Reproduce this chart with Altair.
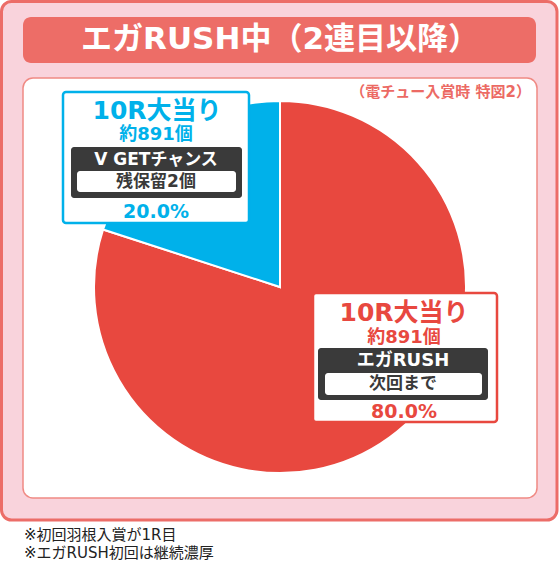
import altair as alt
import pandas as pd

# ---- data ----
title = "エガRUSH中（2連目以降）"
subtitle = "（電チュー入賞時 特図2）"
categories = ["エガRUSH", "V GETチャンス"]
values = [80.0, 20.0]
round_labels = ["10R大当り", "10R大当り"]
payouts = ["約891個", "約891個"]
sub_labels = ["次回まで", "残保留2個"]
footnotes = ["※初回羽根入賞が1R目", "※エガRUSH初回は継続濃厚"]

RED = "#e8483f"
BLUE = "#00b1ea"
DARK = "#3a3a3a"
FONT = "DejaVu Sans, Noto Sans CJK JP"

one = pd.DataFrame({"k": [0]})


def box(x, x2, y, y2, fill, stroke=None, sw=0, cr=0):
    kw = dict(fill=fill, cornerRadius=cr)
    if stroke:
        kw.update(stroke=stroke, strokeWidth=sw)
    return alt.Chart(one).mark_rect(**kw).encode(
        x=alt.value(x), x2=alt.value(x2), y=alt.value(y), y2=alt.value(y2)
    )


def label(s, x, y, size, color, weight="bold", align="center"):
    return alt.Chart(pd.DataFrame({"t": [s]})).mark_text(
        font=FONT, fontSize=size, fontWeight=weight, color=color,
        align=align, baseline="middle"
    ).encode(x=alt.value(x), y=alt.value(y), text="t:N")


pie_df = pd.DataFrame({"category": categories, "value": values, "idx": [0, 1]})
pie = alt.Chart(pie_df).mark_arc(outerRadius=186, stroke="white", strokeWidth=2).encode(
    theta=alt.Theta("value:Q", stack=True),
    order=alt.Order("idx:Q"),
    color=alt.Color("category:N", scale=alt.Scale(domain=categories, range=[RED, BLUE]), legend=None),
    x=alt.value(280),
    y=alt.value(287),
)

pct = [f"{v:.1f}%" for v in values]

layers = [
    box(1.5, 557, 1.5, 520, "#f9d3dc", "#ec6d68", 3, 10),
    box(23, 536, 17, 63, "#ed6d67", cr=8),
    label(title, 280, 40, 31, "white"),
    box(23, 537, 78, 498, "white", "#f08a84", 1.5, 10),
    label(subtitle, 531, 92, 15, "#ec6a64", align="right"),
    pie,
    # blue callout
    box(63, 249, 92, 223, "white", BLUE, 2.5, 3),
    label(round_labels[1], 157, 111, 25, BLUE),
    label(payouts[1], 156, 135, 18, BLUE),
    box(71, 242, 147, 198, DARK, cr=3),
    label(categories[1], 156, 160, 17, "white"),
    box(77, 236, 171, 192, "white", cr=3),
    label(sub_labels[1], 156, 182, 17, DARK),
    label(pct[1], 156, 212, 19, BLUE),
    # red callout
    box(313, 497, 293, 422, "white", RED, 2.5, 3),
    label(round_labels[0], 404, 313, 25, RED),
    label(payouts[0], 404, 338, 18, RED),
    box(318, 488, 348, 400, DARK, cr=3),
    label(categories[0], 403, 361, 18, "white"),
    box(325, 482, 373, 395, "white", cr=3),
    label(sub_labels[0], 403, 384, 17, DARK),
    label(pct[0], 404, 412, 19, RED),
    # footnotes
    label(footnotes[0], 24, 535, 15, "#222222", weight="normal", align="left"),
    label(footnotes[1], 24, 553, 15, "#222222", weight="normal", align="left"),
]

chart = alt.layer(*layers).properties(
    width=560, height=562, padding=0, autosize="none", background="white"
).configure_view(stroke=None)

chart.save("out.html", embed_options={"renderer": "svg", "actions": False})
